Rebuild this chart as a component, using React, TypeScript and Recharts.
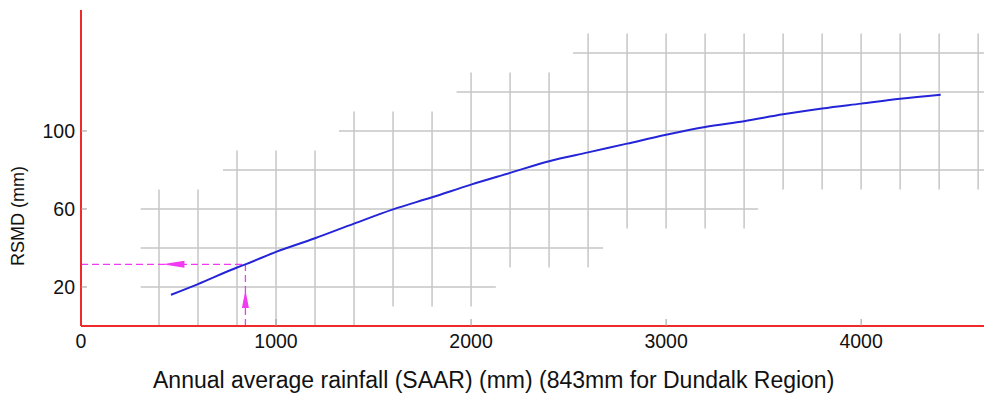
import { ComposedChart, Line, Scatter, XAxis, YAxis, ReferenceLine, Label } from 'recharts';

// curve: SAAR (mm) -> RSMD (mm)
const saar = [461, 600, 800, 843, 1000, 1200, 1400, 1600, 1800, 2000, 2200, 2400, 2600, 2800, 3000, 3200, 3400, 3600, 3800, 4000, 4200, 4408];
const rsmd = [16, 21.5, 30, 31.6, 38, 45, 52.5, 59.8, 66, 72.5, 78.5, 84.5, 89, 93.5, 98, 102, 105, 108.5, 111.5, 114, 116.5, 118.6];

// irregular background grid (band around the curve)
const vGridX = [400, 600, 800, 1000, 1200, 1400, 1600, 1800, 2000, 2200, 2400, 2600, 2800, 3000, 3200, 3400, 3600, 3800, 4000, 4200, 4400, 4600];
const vGridLow = [0, 0, 0, 0, 0, 0, 10, 10, 10, 30, 30, 30, 50, 50, 50, 50, 70, 70, 70, 70, 70, 70];
const vGridHigh = [70, 70, 90, 90, 90, 110, 110, 110, 130, 130, 130, 150, 150, 150, 150, 150, 150, 150, 150, 150, 150, 150];
const hGridY = [20, 40, 60, 80, 100, 120, 140];
const hGridFrom = [306, 306, 306, 728, 1323, 1926, 2523];
const hGridTo = [2127, 2677, 3472, 4630, 4630, 4630, 4630];

const xTicks = [0, 1000, 2000, 3000, 4000];
const yTicks = [20, 60, 100];

// Dundalk reading
const siteSaar = 843;
const siteRsmd = 31.6;
const arrowX = [474, 843];
const arrowY = [31.6, 13.8];
const arrowDir = ['left', 'up'];

const curve = saar.map((x, i) => ({ x, y: rsmd[i] }));
const arrows = arrowX.map((x, i) => ({ x, y: arrowY[i], dir: arrowDir[i] }));

const FONT = '"Liberation Sans", Arial, sans-serif';
const MAGENTA = '#f23af2';
const GRID = '#c6c6c6';

const XTick = (props: any) => {
  const { x, y, payload } = props;
  return (
    <g>
      {payload.value !== 0 && <line x1={x} x2={x} y1={y} y2={y - 7} stroke="#999" strokeWidth={1} />}
      <text x={x} y={y + 22} textAnchor="middle" fontSize={19.5} fontFamily={FONT} fill="#111">
        {payload.value}
      </text>
    </g>
  );
};

const YTick = (props: any) => {
  const { x, y, payload } = props;
  return (
    <g>
      <line x1={x} x2={x + 6} y1={y} y2={y} stroke="#999" strokeWidth={1} />
      <text x={x - 6} y={y + 7} textAnchor="end" fontSize={19.5} fontFamily={FONT} fill="#111">
        {payload.value}
      </text>
    </g>
  );
};

const ArrowHead = (props: any) => {
  const { cx, cy, payload } = props;
  if (payload.dir === 'left') {
    return <polygon points={`${cx - 11},${cy} ${cx + 11},${cy - 3.5} ${cx + 11},${cy + 3.5}`} fill={MAGENTA} />;
  }
  return <polygon points={`${cx},${cy - 9} ${cx - 3.5},${cy + 9} ${cx + 3.5},${cy + 9}`} fill={MAGENTA} />;
};

export default function App() {
  return (
    <div style={{ position: 'absolute', left: 0, top: 0, background: '#fff' }}>
      <ComposedChart width={984} height={393} margin={{ top: 10, right: 0, bottom: 0, left: 0 }}>
        <XAxis
          type="number"
          dataKey="x"
          domain={[0, 4630]}
          ticks={xTicks}
          tick={<XTick />}
          tickLine={false}
          tickSize={0}
          tickMargin={0}
          height={67}
          axisLine={{ stroke: '#ee2a2a', strokeWidth: 2 }}
          allowDataOverflow
        >
          <Label
            content={(p: any) => (
              <text x={p.viewBox.x + 72} y={388} textAnchor="start" fontSize={23} fontFamily={FONT} fill="#111">
                Annual average rainfall (SAAR) (mm) (843mm for Dundalk Region)
              </text>
            )}
          />
        </XAxis>
        <YAxis
          type="number"
          dataKey="y"
          domain={[0, 162]}
          ticks={yTicks}
          tick={<YTick />}
          tickLine={false}
          tickSize={0}
          tickMargin={0}
          width={81}
          axisLine={{ stroke: '#ee2a2a', strokeWidth: 2 }}
          allowDataOverflow
        >
          <Label
            content={(p: any) => (
              <text
                x={p.viewBox.x + 24}
                y={216}
                transform={`rotate(-90, ${p.viewBox.x + 24}, 216)`}
                textAnchor="middle"
                fontSize={18}
                fontFamily={FONT}
                fill="#111"
              >
                RSMD (mm)
              </text>
            )}
          />
        </YAxis>

        {hGridY.map((y, i) => (
          <ReferenceLine
            key={`h${y}`}
            segment={[{ x: hGridFrom[i], y }, { x: hGridTo[i], y }]}
            stroke={GRID}
            strokeWidth={1.5}
          />
        ))}
        {vGridX.map((x, i) => (
          <ReferenceLine
            key={`v${x}`}
            segment={[{ x, y: vGridLow[i] }, { x, y: vGridHigh[i] }]}
            stroke={GRID}
            strokeWidth={1.5}
          />
        ))}

        <ReferenceLine segment={[{ x: 0, y: siteRsmd }, { x: siteSaar, y: siteRsmd }]} stroke={MAGENTA} strokeDasharray="7 4" strokeWidth={1.3} />
        <ReferenceLine segment={[{ x: siteSaar, y: 0 }, { x: siteSaar, y: siteRsmd }]} stroke={MAGENTA} strokeDasharray="7 4" strokeWidth={1.3} />

        <Line
          data={curve}
          dataKey="y"
          type="monotone"
          stroke="#2424d8"
          strokeWidth={2}
          dot={false}
          isAnimationActive={false}
        />
        <Scatter data={arrows} dataKey="y" shape={<ArrowHead />} isAnimationActive={false} />
      </ComposedChart>
    </div>
  );
}
